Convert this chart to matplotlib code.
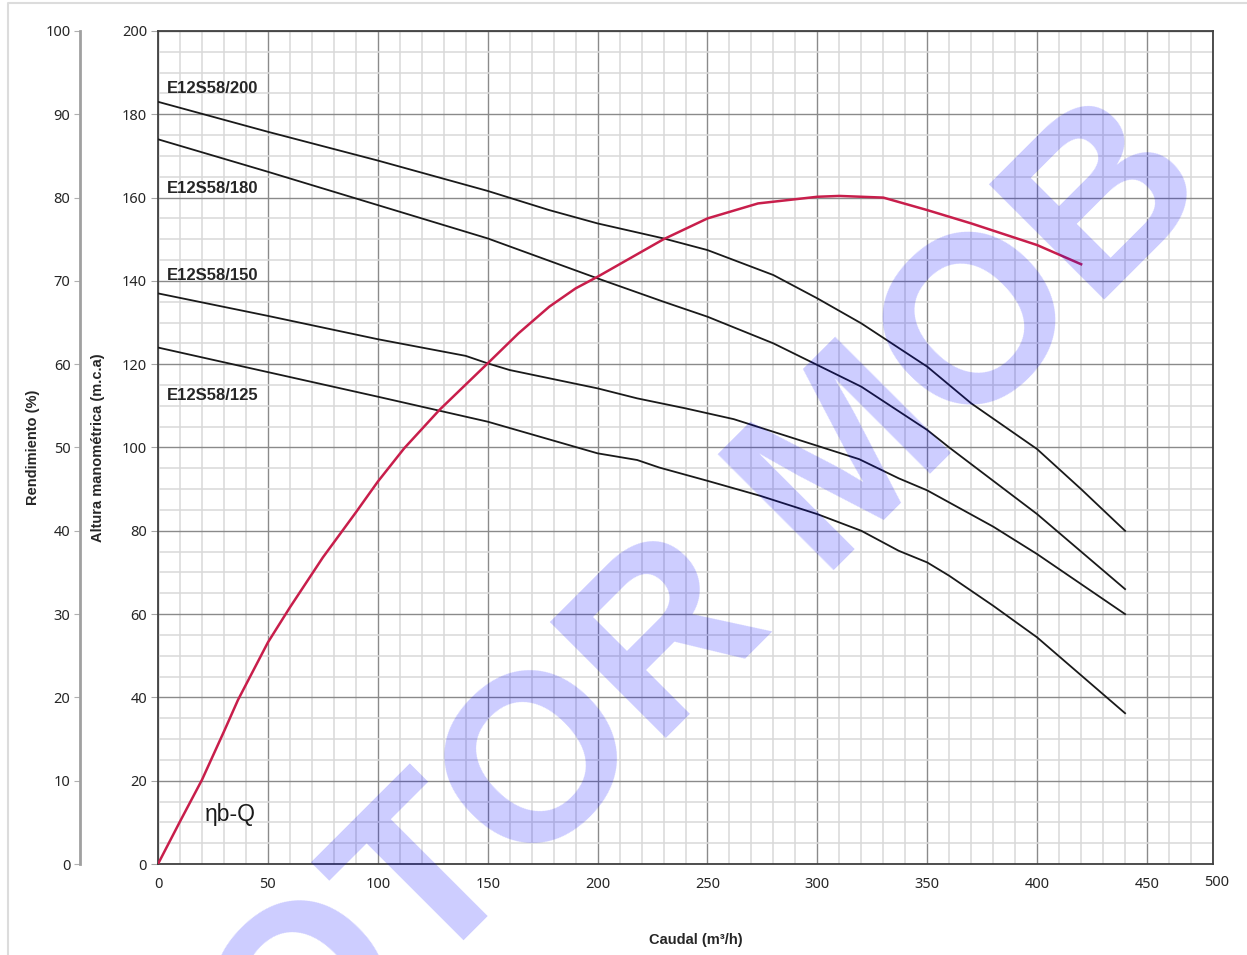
import matplotlib
matplotlib.use("Agg")
import matplotlib.pyplot as plt
import matplotlib.transforms as mtransforms
from matplotlib.ticker import MultipleLocator
from matplotlib.lines import Line2D

plt.rcParams['font.family'] = ['Noto Sans', 'DejaVu Sans']

# caudal (m3/h) vs altura (m.c.a) for each impeller
q_200 = [0, 50, 100, 150, 178, 200, 230, 250, 280, 300, 320, 350, 370, 400, 420, 440]
h_200 = [183, 175.8, 168.9, 161.6, 157, 153.8, 150.2, 147.4, 141.4, 135.8, 129.8, 119.4, 110.6, 99.6, 90, 80]

q_180 = [0, 50, 100, 150, 200, 230, 250, 280, 300, 320, 350, 360, 380, 400, 420, 440]
h_180 = [174, 166.2, 158.2, 150.2, 140.6, 135, 131.4, 125, 119.8, 114.6, 104.2, 100, 92, 84, 75, 66]

q_150 = [0, 50, 100, 140, 150, 160, 200, 218, 240, 262, 300, 319, 337, 350, 380, 400, 420, 440]
h_150 = [137, 131.6, 126, 122, 120.2, 118.6, 114.2, 111.8, 109.4, 106.8, 100.4, 97.2, 92.6, 89.7, 81, 74.4, 67.2, 60]

q_125 = [0, 50, 100, 150, 200, 218, 228, 250, 274, 300, 320, 337, 350, 360, 380, 400, 420, 440]
h_125 = [124, 118.1, 112.2, 106.2, 98.6, 97, 95.2, 92, 88.4, 84, 80, 75.2, 72.4, 69.2, 62, 54.4, 45.3, 36.2]

# rendimiento (%)
q_eff = [0, 10, 20, 30, 36.4, 50, 60, 75, 90, 100, 112, 128, 150, 164, 178, 190, 200, 230, 250, 273, 300, 310, 330, 350, 370, 400, 420]
eff = [0, 5.1, 10.1, 15.9, 19.7, 26.6, 30.8, 36.8, 42.2, 45.9, 49.9, 54.5, 60.1, 63.7, 66.9, 69.1, 70.5, 75, 77.5, 79.3, 80.1, 80.2, 80, 78.5, 76.9, 74.3, 72]

curves = [("E12S58/200", q_200, h_200, 186.3),
          ("E12S58/180", q_180, h_180, 162.3),
          ("E12S58/150", q_150, h_150, 141.2),
          ("E12S58/125", q_125, h_125, 112.4)]

W, H = 1247, 955
fig = plt.figure(figsize=(W / 100, H / 100), dpi=100)
ax = fig.add_axes([158 / W, 1 - 864 / H, (1213 - 158) / W, (864 - 31) / H])

for name, q, h, ylab in curves:
    ax.plot(q, h, color='#1a1a1a', lw=1.3, zorder=3)
    ax.text(4.1, ylab, name, fontsize=12, fontweight='bold', family='Liberation Sans',
            color='#262626', va='center', ha='left', zorder=4)

ax.set_xlim(0, 480)
ax.set_ylim(0, 200)
ax.xaxis.set_major_locator(MultipleLocator(50))
ax.xaxis.set_minor_locator(MultipleLocator(10))
ax.yaxis.set_major_locator(MultipleLocator(20))
ax.yaxis.set_minor_locator(MultipleLocator(5))
ax.grid(which='minor', color='#d9d9d9', lw=1.1)
ax.grid(which='major', color='#8a8a8a', lw=1.0)
ax.set_axisbelow(True)
for s in ax.spines.values():
    s.set_color('#404040')
    s.set_linewidth(1.3)
ax.tick_params(which='minor', length=0)
ax.tick_params(axis='y', which='major', length=5, color='#a6a6a6', labelsize=10.5,
               labelcolor='#262626', pad=3)
ax.tick_params(axis='x', which='major', length=0, labelsize=10.5, labelcolor='#262626', pad=9)

# "500" sits just past the right edge of the plot
trans = mtransforms.blended_transform_factory(ax.transData, ax.transAxes)
ax.text(481.5, -0.0228, '500', transform=trans, ha='center', va='center',
        fontsize=10.5, color='#262626', clip_on=False)

label_font = dict(fontsize=10.5, fontweight='bold', color='#262626', family='Liberation Sans')
ax.set_ylabel('Altura manométrica (m.c.a)', **label_font)
ax.yaxis.set_label_coords(-0.0502, 0.5)
ax.set_xlabel('Caudal (m³/h)', **label_font)
ax.xaxis.set_label_coords(0.51, -0.0825)

ax.text(21.3, 12, 'ηb-Q', fontsize=16.5, family=['Liberation Sans', 'DejaVu Sans'],
        color='#1a1a1a', va='center', ha='left')

# efficiency on its own axis, drawn on the far left
ax_eff = ax.twinx()
ax_eff.set_ylim(0, 100)
ax_eff.plot(q_eff, eff, color='#c81e4b', lw=1.8, zorder=3)
ax_eff.yaxis.tick_left()
ax_eff.yaxis.set_label_position('left')
ax_eff.yaxis.set_major_locator(MultipleLocator(10))
for side in ['top', 'right', 'bottom']:
    ax_eff.spines[side].set_visible(False)
ax_eff.spines['left'].set_position(('outward', 56))
ax_eff.spines['left'].set_color('#a0a0a0')
ax_eff.spines['left'].set_linewidth(2)
ax_eff.tick_params(axis='y', length=4, color='#b0b0b0', labelsize=10.5, labelcolor='#262626', pad=3)
ax_eff.set_ylabel('Rendimiento (%)', **label_font)
ax_eff.yaxis.set_label_coords(-0.1118, 0.5)

# watermark
fig.text(155 / W, 1 - 1250 / H, 'MOTOR MOB', rotation=45, rotation_mode='anchor',
         ha='left', va='baseline', fontsize=171, fontweight='bold', family='Liberation Sans',
         color='#0000ff', alpha=0.2, zorder=10)

# light frame around the picture
fig.add_artist(Line2D([8 / W, 8 / W, 1.0], [0, 1 - 3 / H, 1 - 3 / H], color='#dcdcdc', lw=1.5))

fig.savefig('out.png', dpi=100)
